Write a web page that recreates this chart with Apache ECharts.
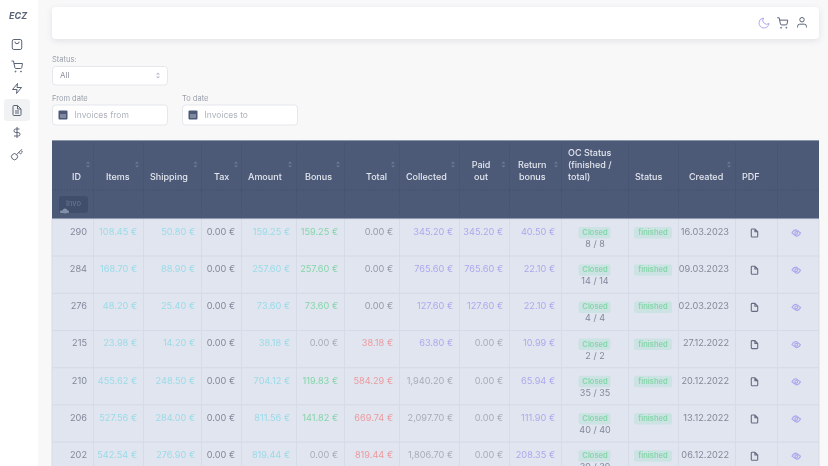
<!DOCTYPE html>
<html>
<head>
<meta charset="utf-8">
<style>html,body{margin:0;padding:0;background:#f8f8f9}#main{width:828px;height:466px}</style>
<script src="https://cdn.jsdelivr.net/npm/echarts@6/dist/echarts.min.js"></script>
</head>
<body>
<div id="main"></div>
<script>
// table content
var headers = ['ID', 'Items', 'Shipping', 'Tax', 'Amount', 'Bonus', 'Total', 'Collected', 'Paid\nout', 'Return\nbonus', 'OC Status\n(finished /\ntotal)', 'Status', 'Created', 'PDF', ''];
var ids = [290, 284, 276, 215, 210, 206, 202];
var items = [108.45, 168.70, 48.20, 23.98, 455.62, 527.56, 542.54];
var shipping = [50.80, 88.90, 25.40, 14.20, 248.50, 284.00, 276.90];
var tax = [0, 0, 0, 0, 0, 0, 0];
var amount = [159.25, 257.60, 73.60, 38.18, 704.12, 811.56, 819.44];
var bonus = [159.25, 257.60, 73.60, 0, 119.83, 141.82, 0];
var total = [0, 0, 0, 38.18, 584.29, 669.74, 819.44];
var collected = [345.20, 765.60, 127.60, 63.80, 1940.20, 2097.70, 1806.70];
var paidOut = [345.20, 765.60, 127.60, 0, 0, 0, 0];
var returnBonus = [40.50, 22.10, 22.10, 10.99, 65.94, 111.90, 208.35];
var ocStatus = ['8 / 8', '14 / 14', '4 / 4', '2 / 2', '35 / 35', '40 / 40', '39 / 39'];
var created = ['16.03.2023', '09.03.2023', '02.03.2023', '27.12.2022', '20.12.2022', '13.12.2022', '06.12.2022'];

// layout
var columnEdges = [52, 93.5, 143.5, 201.5, 241.5, 296.5, 344.5, 399.5, 459.5, 509.5, 561.5, 628.5, 678.5, 735.5, 777.5, 819];
var headerX = [72, 106, 150, 214, 248, 305, 366, 406, 478, 520, 568, 635, 689, 742, 0];
var sortX = [88, 137, 195.5, 236, 290, 338, 393, 453, 503.5, 556, 0, 0, 729, 0, 0];
var FONT = 'Inter, "Open Sans", sans-serif';
var GREY = '#82889a', MUTED = '#a8adb9', CYAN = '#9adbe8', GREEN = '#85d5aa', PURPLE = '#aca8ee', RED = '#ec9a9e';

var P = {
  bag: 'M6 3h12a3 3 0 0 1 3 3v13a3 3 0 0 1-3 3H6a3 3 0 0 1-3-3V6a3 3 0 0 1 3-3z M8 7a4 4 0 0 0 8 0',
  cart: 'M1 1h4l2.7 13.4a2 2 0 0 0 2 1.6h9.7a2 2 0 0 0 2-1.6L23 6H6 M9 21a1 1 0 1 0 0.01 0 M20 21a1 1 0 1 0 0.01 0',
  bolt: 'M13 2L3 14h9l-1 8 10-12h-9l1-8z',
  file: 'M13 2H6a2 2 0 0 0-2 2v16a2 2 0 0 0 2 2h12a2 2 0 0 0 2-2V9z M13 2v7h7 M8 13h8 M8 17h8',
  doc: 'M13 2H6a2 2 0 0 0-2 2v16a2 2 0 0 0 2 2h12a2 2 0 0 0 2-2V9z M13 2v7h7',
  dollar: 'M12 1v22 M17 5H9.5a3.5 3.5 0 0 0 0 7h5a3.5 3.5 0 0 1 0 7H6',
  key: 'M21 2l-2 2 M11.4 11.6a5.5 5.5 0 1 1-7.8 7.8 5.5 5.5 0 0 1 7.8-7.8z M11.4 11.6L19 4 M15.5 7.5l3 3L22 7l-3-3',
  moon: 'M21 12.8A9 9 0 1 1 11.2 3 7 7 0 0 0 21 12.8z',
  user: 'M20 21v-2a4 4 0 0 0-4-4H8a4 4 0 0 0-4 4v2 M12 3a4 4 0 1 0 0.01 0',
  eye: 'M1 12s4-8 11-8 11 8 11 8-4 8-11 8-11-8-11-8z M12 8.5a3.5 3.5 0 1 0 0.01 0'
};

function money(v) {
  return v.toFixed(2).replace(/\B(?=(\d{3})+(?!\d))/g, ',') + ' €';
}
function txt(s, x, y, fill, size, align, weight) {
  return { type: 'text', style: { text: s, x: x, y: y, fill: fill, align: align || 'left', verticalAlign: 'middle', font: (weight || 400) + ' ' + size + 'px ' + FONT } };
}
function box(x, y, w, h, fill, r, stroke) {
  return { type: 'rect', shape: { x: x, y: y, width: w, height: h, r: r || 0 }, style: { fill: fill, stroke: stroke || null, lineWidth: 1 } };
}
function icon(d, cx, cy, size, color, fill, lw) {
  return { type: 'path', shape: { pathData: d, x: cx - size / 2, y: cy - size / 2, width: size, height: size, layout: 'center' }, style: { fill: fill || 'none', stroke: color, lineWidth: lw || 1 } };
}

// one entry per body cell
var cells = [];
ids.forEach(function (id, r) {
  var row = [
    { text: String(id), fill: GREY },
    { text: money(items[r]), fill: CYAN },
    { text: money(shipping[r]), fill: CYAN },
    { text: money(tax[r]), fill: GREY },
    { text: money(amount[r]), fill: CYAN },
    { text: money(bonus[r]), fill: bonus[r] > 0 ? GREEN : MUTED },
    { text: money(total[r]), fill: total[r] > 0 ? RED : '#959aa9' },
    { text: money(collected[r]), fill: collected[r] > 1000 ? MUTED : PURPLE },
    { text: money(paidOut[r]), fill: paidOut[r] > 0 ? PURPLE : MUTED },
    { text: money(returnBonus[r]), fill: PURPLE },
    { kind: 'oc', text: ocStatus[r] },
    { kind: 'status', text: 'finished' },
    { text: created[r], fill: GREY },
    { kind: 'pdf' },
    { kind: 'eye' }
  ];
  row.forEach(function (c, i) {
    c.value = [columnEdges[i], r];
    c.col = i;
    cells.push(c);
  });
});

function renderCell(params, api) {
  var c = cells[params.dataIndex];
  var left = api.coord([columnEdges[c.col], api.value(1)]);
  var right = api.coord([columnEdges[c.col + 1], api.value(1)]);
  var h = api.size([0, 1])[1];
  var top = left[1] - h / 2, x0 = left[0], x1 = right[0], mid = (x0 + x1) / 2;
  var kids = [box(x0, top, x1 - x0, h, '#e0e5ef', 0, '#d6dbe8')];
  if (c.kind === 'oc') {
    kids.push(box(mid - 16.5, top + 8, 32, 11.5, '#cbe4e3', 2));
    kids.push(txt('Closed', mid, top + 13.8, GREEN, 7.5, 'center', 600));
    kids.push(txt(c.text, mid, top + 25.3, GREY, 9, 'center'));
  } else if (c.kind === 'status') {
    kids.push(box(634, top + 8, 38, 11.5, '#cbe4e3', 2));
    kids.push(txt(c.text, 653, top + 13.8, GREEN, 7.5, 'center', 600));
  } else if (c.kind === 'pdf') {
    kids.push(icon(P.doc, mid - 2, top + 14, 8, '#666d82', null, 1.1));
  } else if (c.kind === 'eye') {
    kids.push(icon(P.eye, mid - 2, top + 14, 8.5, PURPLE, null, 1.1));
  } else {
    kids.push(txt(c.text, x1 - 6.5, top + 13, c.fill, 9.2, 'right'));
  }
  return { type: 'group', children: kids };
}

function renderHeader(params, api) {
  var i = params.dataIndex;
  var x0 = api.coord([columnEdges[i], 1]), x1 = api.coord([columnEdges[i + 1], 0]);
  var top = x0[1], bottom = x1[1], kids = [];
  var dot = { stroke: '#3f4c68', lineWidth: 1, lineDash: [1, 2] };
  if (i > 0) {
    kids.push({ type: 'line', shape: { x1: x0[0], y1: top + 3, x2: x0[0], y2: bottom - 5 }, style: dot });
  }
  kids.push({ type: 'line', shape: { x1: x0[0], y1: top + 49.5, x2: x1[0], y2: top + 49.5 }, style: dot });
  var lines = headers[i].split('\n');
  lines.forEach(function (s, k) {
    var y = top + 37 - (lines.length - 1 - k) * 12;
    if (i === 8 || i === 9) {
      kids.push(txt(s, (x0[0] + sortX[i] - 5) / 2 + 2, y, '#e4e7ef', 9, 'center', 500));
    } else if (s) {
      kids.push(txt(s, headerX[i], y, '#e4e7ef', 9, 'left', 500));
    }
  });
  if (sortX[i]) {
    kids.push({ type: 'polygon', shape: { points: [[sortX[i] - 2, top + 23], [sortX[i] + 2, top + 23], [sortX[i], top + 21]] }, style: { fill: '#6f7c96' } });
    kids.push({ type: 'polygon', shape: { points: [[sortX[i] - 2, top + 25], [sortX[i] + 2, top + 25], [sortX[i], top + 27]] }, style: { fill: '#6f7c96' } });
  }
  return { type: 'group', children: kids };
}

// page furniture around the table
function renderPage() {
  var shadow = { shadowBlur: 6, shadowColor: 'rgba(60,70,90,0.12)', shadowOffsetY: 2 };
  var bar = box(52, 7, 767, 32, '#ffffff', 4);
  Object.assign(bar.style, shadow);
  var kids = [
    box(0, 0, 38, 466, '#ffffff'),
    { type: 'text', style: { text: 'ECZ', x: 9, y: 16, fill: '#596478', verticalAlign: 'middle', font: 'italic 700 9px ' + FONT } },
    box(4, 99, 26, 22, '#f1f2f4', 3),
    icon(P.bag, 17, 44.5, 10, '#5b6377'),
    icon(P.cart, 17, 66.5, 11, '#5b6377'),
    icon(P.bolt, 17, 88.5, 10, '#5b6377'),
    icon(P.file, 17, 110.5, 10, '#5b6377'),
    icon(P.dollar, 17, 132.5, 11, '#5b6377'),
    icon(P.key, 17, 154.5, 11, '#5b6377'),
    bar,
    icon(P.moon, 764, 23, 10, PURPLE),
    icon(P.cart, 782.5, 23, 10.5, '#5b6377'),
    icon(P.user, 802, 22.5, 10, '#5b6377'),
    txt('Status:', 52, 59.5, '#9aa0aa', 7.5),
    box(52.5, 66.5, 115, 18.5, '#ffffff', 3, '#e4e7ec'),
    txt('All', 60, 75.5, '#8b919c', 8),
    { type: 'polygon', shape: { points: [[156, 74.5], [160, 74.5], [158, 72.5]] }, style: { fill: '#b9bdc6' } },
    { type: 'polygon', shape: { points: [[156, 76.5], [160, 76.5], [158, 78.5]] }, style: { fill: '#b9bdc6' } },
    txt('From date', 52, 98.5, '#9aa0aa', 7.5),
    txt('To date', 182, 98.5, '#9aa0aa', 7.5),
    box(52.5, 105, 115, 20, '#ffffff', 3, '#e4e7ec'),
    box(182.5, 105, 115, 20, '#ffffff', 3, '#e4e7ec'),
    box(58.5, 110.5, 9, 9, '#4c5a78', 1),
    box(188.5, 110.5, 9, 9, '#4c5a78', 1),
    box(60, 114, 6, 4, '#7f8aa1'),
    box(190, 114, 6, 4, '#7f8aa1'),
    txt('Invoices from', 74.5, 115.5, '#aeb3bc', 8.5),
    txt('Invoices to', 204.5, 115.5, '#aeb3bc', 8.5),
    box(52, 140.5, 767, 78.5, '#4c5a78'),
    box(52, 140, 767, 1, '#8d97ab'),
    box(59, 196, 29, 17, '#414e6b', 3),
    txt('Invo', 66, 204, '#6d7a95', 7.5),
    { type: 'circle', shape: { cx: 65, cy: 211, r: 2.5 }, style: { fill: '#8390a8' } },
    box(60, 210.5, 9, 2.5, '#8390a8', 1)
  ];
  return { type: 'group', children: kids };
}

var chart = echarts.init(document.getElementById('main'), null, { renderer: 'canvas' });
chart.setOption({
  animation: false,
  backgroundColor: '#f8f8f9',
  grid: [
    { left: 52, top: 219, width: 767, height: 260.4, outerBoundsMode: 'none' },
    { left: 52, top: 140.5, width: 767, height: 78.5, outerBoundsMode: 'none' }
  ],
  xAxis: [
    { type: 'value', gridIndex: 0, min: 52, max: 819, show: false },
    { type: 'value', gridIndex: 1, min: 52, max: 819, show: false }
  ],
  yAxis: [
    { type: 'category', gridIndex: 0, data: ids, inverse: true, show: false },
    { type: 'value', gridIndex: 1, min: 0, max: 1, show: false }
  ],
  series: [
    { type: 'custom', coordinateSystem: 'none', data: [0], renderItem: renderPage, z: 1, silent: true },
    {
      type: 'custom', xAxisIndex: 0, yAxisIndex: 0, z: 2, clip: false, silent: true,
      encode: { x: 0, y: 1 },
      data: cells.map(function (c) { return c.value; }),
      renderItem: renderCell
    },
    {
      type: 'custom', xAxisIndex: 1, yAxisIndex: 1, z: 3, clip: false, silent: true,
      data: headers.map(function (h, i) { return [columnEdges[i], 1]; }),
      renderItem: renderHeader
    }
  ]
});
</script>
</body>
</html>
